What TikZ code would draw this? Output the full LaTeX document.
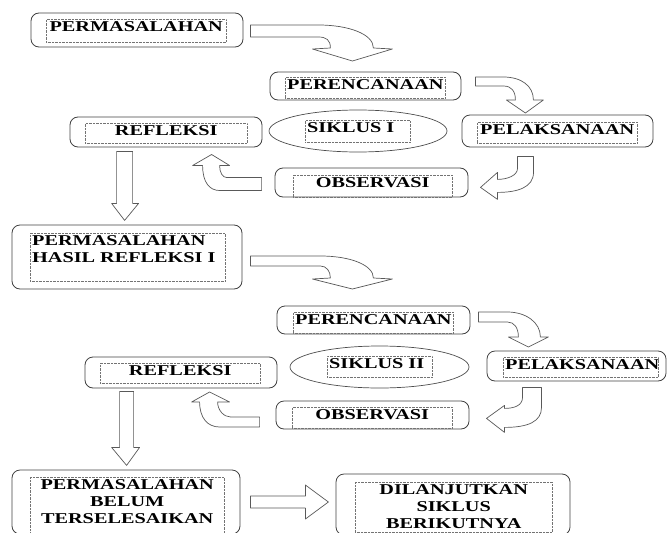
\documentclass[tikz,border=0pt]{standalone}
\usepackage{fontspec}
\usetikzlibrary{shapes.geometric}
\newfontfamily\boxfont{Liberation Serif}[FakeStretch=1.35]
\hyphenpenalty=10000
\tikzset{
    rbox/.style={draw=black!75, rounded corners=8pt, line width=0.8pt},
    tbox/.style={draw=black!55, densely dotted, anchor=north west, inner xsep=2pt, inner ysep=1.5pt,
        text height=10.5pt, align=center, font=\boxfont\bfseries\fontsize{15}{17}\selectfont},
    siklus/.style={draw=black!70, ellipse, line width=0.7pt, minimum width=178pt, minimum height=42pt},
    blockarrow/.style={draw=black!65, fill=white, line width=0.7pt, line join=round}
}

\begin{document}
\begin{tikzpicture}[x=1pt,y=-1pt]
    \useasboundingbox (0,0) rectangle (668,532);

    % kotak luar
    \begin{scope}[every node/.style={rbox}]
        \node[minimum width=212pt, minimum height=34pt] (perm) at (137,30) {};
        \node[minimum width=191pt, minimum height=28pt] (perc1) at (365.5,86) {};
        \node[minimum width=191pt, minimum height=32pt] (pelak1) at (557.5,131) {};
        \node[minimum width=193pt, minimum height=29pt] (obs1) at (371.5,182.5) {};
        \node[minimum width=192pt, minimum height=30pt] (refl1) at (166,132) {};
        \node[minimum width=230pt, minimum height=64pt] (ph) at (127,257) {};
        \node[minimum width=193pt, minimum height=28pt] (perc2) at (373.5,320) {};
        \node[minimum width=179pt, minimum height=30pt] (pelak2) at (576.5,366) {};
        \node[minimum width=193pt, minimum height=28pt] (obs2) at (372.5,415) {};
        \node[minimum width=192pt, minimum height=31pt] (refl2) at (181,372.5) {};
        \node[minimum width=228pt, minimum height=64pt] (pb) at (126,502) {};
        \node[minimum width=234pt, minimum height=61pt] (dil) at (453,504.5) {};
    \end{scope}
    \node[siklus] (sik1) at (358,131) {};
    \node[siklus, minimum width=179pt] (sik2) at (379.5,367) {};

    % kotak teks
    \node[tbox, text width=176pt, text depth=9.5pt] (permT) at (46,19) {PERMASALAHAN};
    \node[tbox, text width=156pt, text depth=7.5pt] (perc1T) at (285,77) {PERENCANAAN};
    \node[tbox, text width=101pt, text depth=8.5pt, align=left] (sik1T) at (305,120) {SIKLUS I};
    \node[tbox, text width=156pt, text depth=7.5pt] (pelak1T) at (477,122) {PELAKSANAAN};
    \node[tbox, text width=155pt, text depth=8.5pt] (obs1T) at (293,175) {OBSERVASI};
    \node[tbox, text width=158pt, text depth=6.5pt] (refl1T) at (85,123) {REFLEKSI};
    \node[tbox, text width=191pt, text depth=34.5pt, align=left] (phT) at (30,233) {PERMASALAHAN\\HASIL REFLEKSI I};
    \node[tbox, text width=156pt, text depth=7.5pt] (perc2T) at (293,312) {PERENCANAAN};
    \node[tbox, text width=101pt, text depth=7.5pt, align=left] (sik2T) at (327,356) {SIKLUS II};
    \node[tbox, text width=151pt, text depth=6.5pt] (pelak2T) at (503,357) {PELAKSANAAN};
    \node[tbox, text width=156pt, text depth=7.5pt] (obs2T) at (292,407) {OBSERVASI};
    \node[tbox, text width=156pt, text depth=6.5pt] (refl2T) at (100,363) {REFLEKSI};
    \node[tbox, text width=190pt, text depth=42.5pt] (pbT) at (30,477) {PERMASALAHAN\\BELUM\\TERSELESAIKAN};
    \node[tbox, text width=193pt, text depth=36.5pt] (dilT) at (355,482) {DILANJUTKAN\\SIKLUS\\BERIKUTNYA};

    % panah blok
    \begin{scope}[shift={(perm.east)}]
        \draw[blockarrow] (7,-5) -- (75,-5) .. controls (105,-5) and (130,4) .. (130,18) -- (149,19) -- (109,31)
            -- (69,19) -- (87,18) .. controls (87,10) and (83,7) .. (75,7) -- (7,7) -- cycle;
    \end{scope}
    \begin{scope}[shift={(perc1.east)}]
        \draw[blockarrow] (14,-9) -- (42,-9) .. controls (60,-9) and (72,0) .. (72,14) -- (82,14) -- (64,27)
            -- (45,14) -- (54,14) .. controls (54,5) and (50,0) .. (42,0) -- (14,0) -- cycle;
    \end{scope}
    \begin{scope}[shift={(pelak1.south)}]
        \draw[blockarrow] (-40,9) -- (-24,9) -- (-24,25) .. controls (-24,40) and (-40,45) .. (-60,45) -- (-60,52)
            -- (-77,40) -- (-60,25) -- (-60,32) .. controls (-50,32) and (-40,28) .. (-40,21) -- cycle;
    \end{scope}
    \begin{scope}[shift={(obs1.west)}]
        \draw[blockarrow] (-13,-5) -- (-48,-5) .. controls (-52,-5) and (-55,-10) .. (-55,-17) -- (-45,-17) -- (-63,-28)
            -- (-82,-17) -- (-72,-17) .. controls (-72,0) and (-65,8) .. (-55,8) -- (-13,8) -- cycle;
    \end{scope}
    \begin{scope}[shift={(refl1.south west)}]
        \draw[blockarrow] (47,4) -- (63,4) -- (63,56) -- (69,56) -- (55,73) -- (42,56) -- (47,56) -- cycle;
    \end{scope}
    \begin{scope}[shift={(ph.east)}]
        \draw[blockarrow] (8,-1) -- (78,-1) .. controls (108,-1) and (131,8) .. (131,21) -- (150,22) -- (110,32)
            -- (70,22) -- (88,21) .. controls (88,14) and (84,9) .. (78,9) -- (8,9) -- cycle;
    \end{scope}
    \begin{scope}[shift={(perc2.east)}]
        \draw[blockarrow] (8,-8) -- (37,-8) .. controls (55,-8) and (70,2) .. (70,17) -- (78,17) -- (58,27)
            -- (38,17) -- (48,17) .. controls (48,8) and (44,2) .. (37,2) -- (8,2) -- cycle;
    \end{scope}
    \begin{scope}[shift={(pelak2.south)}]
        \draw[blockarrow] (-54,6) -- (-35,6) -- (-35,26) .. controls (-35,40) and (-48,46) .. (-72,46) -- (-72,51)
            -- (-90,37) -- (-72,24) -- (-72,27) .. controls (-62,27) and (-54,24) .. (-54,16) -- cycle;
    \end{scope}
    \begin{scope}[shift={(obs2.west)}]
        \draw[blockarrow] (-16,2) -- (-45,2) .. controls (-52,2) and (-58,-5) .. (-58,-13) -- (-46,-13) -- (-66,-23)
            -- (-84,-13) -- (-76,-13) .. controls (-76,3) and (-68,12) .. (-56,12) -- (-16,12) -- cycle;
    \end{scope}
    \begin{scope}[shift={(refl2.south west)}]
        \draw[blockarrow] (35,3) -- (49,3) -- (49,59) -- (55,59) -- (42,77) -- (27,59) -- (35,59) -- cycle;
    \end{scope}
    \begin{scope}[shift={(pb.east)}]
        \draw[blockarrow] (10,-6) -- (65,-6) -- (65,-17) -- (88,0) -- (65,17) -- (65,6) -- (10,6) -- cycle;
    \end{scope}
\end{tikzpicture}
\end{document}
